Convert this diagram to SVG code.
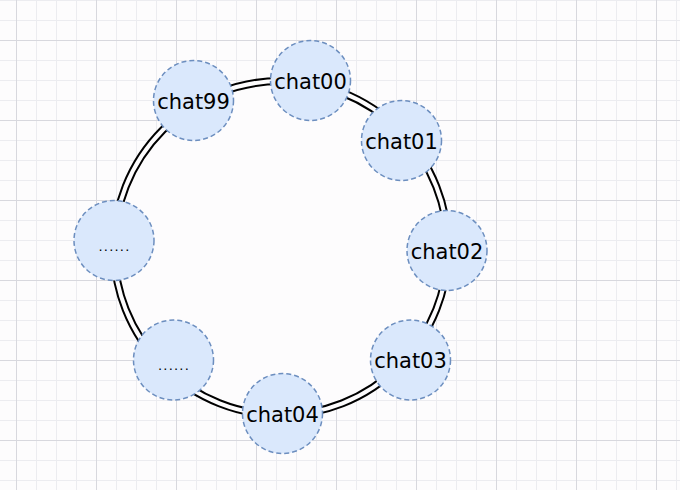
<svg xmlns="http://www.w3.org/2000/svg" width="680" height="490" viewBox="0 0 680 490">
  <style>
    .node circle { fill: #dae8fc; stroke: #6c8ebf; stroke-width: 1.5; stroke-dasharray: 5 3; }
    .node text { font-family: "DejaVu Sans", "Liberation Sans", sans-serif; font-size: 21px; fill: #000; text-anchor: middle; }
    .node text.dots { font-size: 13px; letter-spacing: 1.2px; }
  </style>
  <defs>
    <pattern id="minor" patternUnits="userSpaceOnUse" x="16" y="0" width="20" height="20">
      <path d="M0.5 0V20M0 0.5H20" stroke="#ececf0" stroke-width="1" fill="none"/>
    </pattern>
    <pattern id="major" patternUnits="userSpaceOnUse" x="16" y="40" width="80" height="80">
      <path d="M0.5 0V80M0 0.5H80" stroke="#d8d8de" stroke-width="1" fill="none"/>
    </pattern>
  </defs>
  <rect width="680" height="490" fill="#fdfcfd"/>
  <rect width="680" height="490" fill="url(#minor)"/>
  <rect width="680" height="490" fill="url(#major)"/>

  <g id="connectors">
    <circle cx="281" cy="248" r="167" fill="#fdfcfd" stroke="#000" stroke-width="8"/>
    <circle cx="281" cy="248" r="167" fill="none" stroke="#fdfcfd" stroke-width="4"/>
  </g>

  <g id="chat00" class="node"><circle cx="310.5" cy="80.5" r="40"/><text x="310.5" y="88.5">chat00</text></g>
  <g id="chat01" class="node"><circle cx="401.5" cy="140.5" r="40"/><text x="401.5" y="148.5">chat01</text></g>
  <g id="chat02" class="node"><circle cx="447" cy="250.5" r="40"/><text x="447" y="258.5">chat02</text></g>
  <g id="chat03" class="node"><circle cx="410.5" cy="360" r="40"/><text x="410.5" y="368">chat03</text></g>
  <g id="chat04" class="node"><circle cx="282.5" cy="413.5" r="40"/><text x="282.5" y="421.5">chat04</text></g>
  <g id="node-dots-bottom" class="node"><circle cx="173.5" cy="360" r="40"/><text class="dots" x="174" y="370">......</text></g>
  <g id="node-dots-left" class="node"><circle cx="114" cy="240.5" r="40"/><text class="dots" x="114.5" y="250.5">......</text></g>
  <g id="chat99" class="node"><circle cx="193.5" cy="100.5" r="40"/><text x="193.5" y="108.5">chat99</text></g>
</svg>
